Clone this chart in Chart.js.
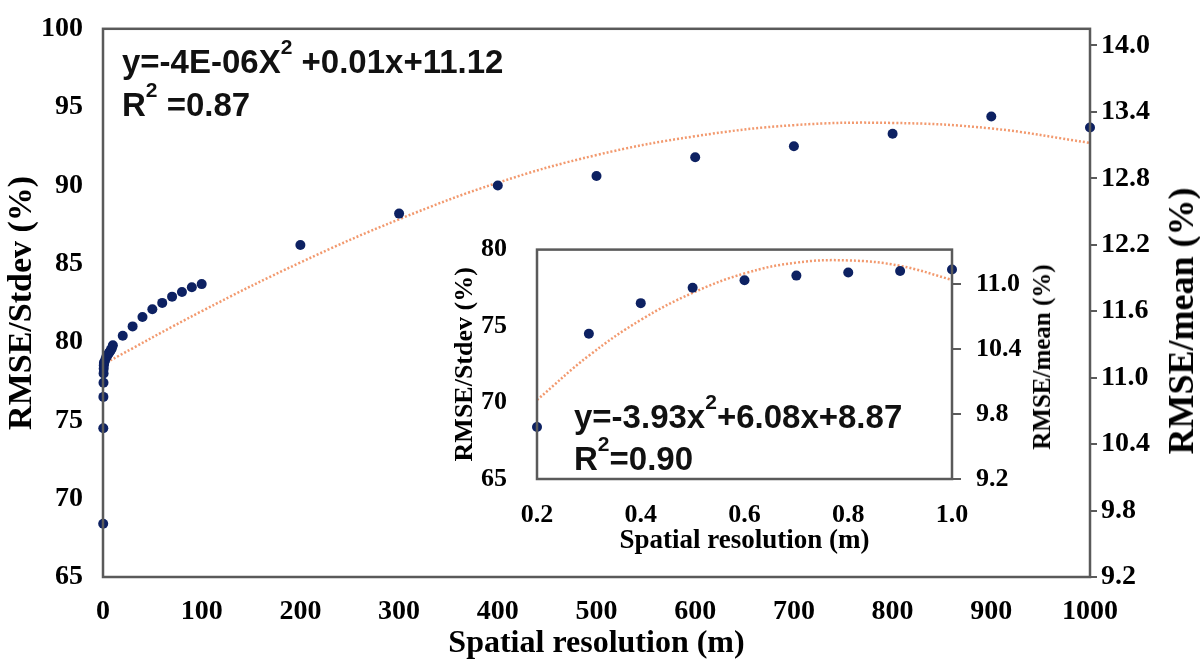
<!DOCTYPE html>
<html lang="en">
<head>
    <meta charset="UTF-8">
    <title>RMSE vs spatial resolution</title>
    <script src="https://cdn.jsdelivr.net/npm/chart.js"></script>
    <style>
        body { margin: 0; background: #fff; }
        #wrap { position: relative; width: 1200px; height: 665px; overflow: hidden; }
        #mainChart { position: absolute; left: 0; top: 0; }
        #insetChart { position: absolute; left: 448px; top: 212px; }
        .eq { position: absolute; font-family: "Liberation Sans", Arial, sans-serif; font-weight: bold;
              font-size: 33px; color: #111; white-space: nowrap; }
        .eq .sup { font-size: 21px; position: relative; top: -19px; }
        /* right-hand titles read bottom-to-top in the original */
        .rtitle { position: absolute; font-family: "Liberation Serif", serif; font-weight: bold; color: #000;
                  white-space: nowrap; transform: translate(-50%, -50%) rotate(-90deg); }
    </style>
</head>
<body>
<div id="wrap">
    <canvas id="mainChart" width="1200" height="665"></canvas>
    <canvas id="insetChart" width="603" height="347"></canvas>
    <div class="eq" style="left:122px; top:42px; line-height:39px;">
        y=-4E-06X<span class="sup">2</span> +0.01x+11.12<br>R<span class="sup">2</span> =0.87
    </div>
    <div class="eq" style="left:574px; top:398px; line-height:38px;">
        y=-3.93x<span class="sup">2</span>+6.08x+8.87<br>R<span class="sup">2</span>=0.90
    </div>
    <div class="rtitle" style="left:1181px; top:321px; font-size:36px;">RMSE/mean (%)</div>
    <div class="rtitle" style="left:1042px; top:357px; font-size:25px;">RMSE/mean (%)</div>
</div>
<script>
    // main plot: resolution (m) vs RMSE/Stdev (%)
    const mainRes = [0.2, 0.3, 0.4, 0.5, 0.6, 0.7, 0.8, 0.9, 1, 2, 3, 4, 5, 6, 7, 8, 9, 10,
        20, 30, 40, 50, 60, 70, 80, 90, 100, 200, 300, 400, 500, 600, 700, 800, 900, 1000];
    const mainStdev = [68.4, 74.5, 76.5, 77.4, 78.0, 78.3, 78.5, 78.6, 78.7, 78.8, 79.0, 79.1, 79.2, 79.3, 79.4, 79.5, 79.6, 79.8,
        80.4, 81.0, 81.6, 82.1, 82.5, 82.9, 83.2, 83.5, 83.7, 86.2, 88.2, 90.0, 90.6, 91.8, 92.5, 93.3, 94.4, 93.7];

    // fitted curve (right axis, RMSE/mean)
    const trendRes = [0, 100, 200, 300, 400, 500, 600, 700, 800, 900, 1000];
    const trendMean = [11.12, 11.60, 12.04, 12.43, 12.76, 13.01, 13.18, 13.28, 13.30, 13.25, 13.12];

    // inset: sub-metre resolutions
    const insetRes = [0.2, 0.3, 0.4, 0.5, 0.6, 0.7, 0.8, 0.9, 1.0];
    const insetStdev = [68.4, 74.5, 76.5, 77.5, 78.0, 78.3, 78.5, 78.6, 78.7];
    const insetTrendMean = [9.93, 10.34, 10.67, 10.92, 11.10, 11.20, 11.22, 11.17, 11.04];

    // tick labels
    const mainXTicks = [0, 100, 200, 300, 400, 500, 600, 700, 800, 900, 1000];
    const mainLeftTicks = [65, 70, 75, 80, 85, 90, 95, 100];
    const mainRightTicks = [9.2, 9.8, 10.4, 11.0, 11.6, 12.2, 12.8, 13.4, 14.0];
    const insetXTicks = [0.2, 0.4, 0.6, 0.8, 1.0];
    const insetLeftTicks = [65, 70, 75, 80];
    const insetRightTicks = [9.2, 9.8, 10.4, 11.0];

    const navy = '#0d2162';
    const peach = 'rgba(240,135,85,0.85)';
    const axisGrey = '#5a5a5a';
    const serif = 'Liberation Serif';

    function pairs(xs, ys) {
        return xs.map((x, i) => ({ x: x, y: ys[i] }));
    }

    function fixTicks(list) {
        return function (scale) { scale.ticks = list.map(v => ({ value: v })); };
    }

    const boxPlugin = {
        id: 'box',
        afterDraw(chart) {
            const a = chart.chartArea;
            const ctx = chart.ctx;
            ctx.save();
            ctx.strokeStyle = axisGrey;
            ctx.lineWidth = 2.5;
            ctx.strokeRect(a.left, a.top, a.right - a.left, a.bottom - a.top);
            ctx.restore();
        }
    };

    function buildChart(id, cfg) {
        const fs = cfg.fontSize;
        return new Chart(document.getElementById(id), {
            type: 'scatter',
            data: {
                datasets: [
                    {
                        label: 'RMSE/Stdev',
                        data: pairs(cfg.xs, cfg.ys),
                        yAxisID: 'y',
                        backgroundColor: navy,
                        borderWidth: 0,
                        pointRadius: 5,
                        pointHoverRadius: 5,
                        clip: false,
                        order: 1
                    },
                    {
                        label: 'fit',
                        type: 'line',
                        data: pairs(cfg.trendXs, cfg.trendYs),
                        yAxisID: 'y2',
                        borderColor: peach,
                        borderWidth: 2.5,
                        borderDash: [2, 2],
                        pointRadius: 0,
                        tension: 0.4,
                        fill: false,
                        order: 2
                    }
                ]
            },
            options: {
                responsive: false,
                animation: false,
                layout: { padding: { top: cfg.padTop } },
                plugins: { legend: { display: false }, tooltip: { enabled: false } },
                scales: {
                    x: {
                        type: 'linear',
                        min: cfg.xMin, max: cfg.xMax,
                        afterBuildTicks: fixTicks(cfg.xTicks),
                        afterFit(s) { s.height = cfg.bottomH; },
                        grid: { display: false },
                        border: { display: false },
                        ticks: {
                            color: '#000', padding: cfg.xPad, maxRotation: 0, autoSkip: false,
                            font: { family: serif, weight: 'bold', size: fs },
                            callback: cfg.xFmt
                        },
                        title: {
                            display: true, text: 'Spatial resolution (m)', color: '#000',
                            font: { family: serif, weight: 'bold', size: cfg.xTitleSize },
                            padding: { top: 0, bottom: 2 }
                        }
                    },
                    y: {
                        position: 'left',
                        min: cfg.yMin, max: cfg.yMax,
                        afterBuildTicks: fixTicks(cfg.yTicks),
                        afterFit(s) { s.width = cfg.leftW; },
                        grid: { display: false },
                        border: { display: false },
                        ticks: {
                            color: '#000', padding: cfg.yPad, autoSkip: false,
                            font: { family: serif, weight: 'bold', size: fs }
                        },
                        title: {
                            display: true, text: 'RMSE/Stdev (%)', color: '#000',
                            font: { family: serif, weight: 'bold', size: cfg.yTitleSize },
                            padding: { top: 2, bottom: 0 }
                        }
                    },
                    y2: {
                        position: 'right',
                        min: cfg.y2Min, max: cfg.y2Max,
                        afterBuildTicks: fixTicks(cfg.y2Ticks),
                        afterFit(s) { s.width = cfg.rightW; },
                        grid: { display: true, drawOnChartArea: false, drawTicks: true, tickLength: cfg.tickLen, color: axisGrey, lineWidth: 2 },
                        border: { display: false },
                        ticks: {
                            color: '#000', padding: cfg.y2Pad, autoSkip: false,
                            font: { family: serif, weight: 'bold', size: fs },
                            callback: v => v.toFixed(1)
                        },
                        title: { display: false }
                    }
                }
            },
            plugins: [boxPlugin]
        });
    }

    buildChart('mainChart', {
        xs: mainRes, ys: mainStdev, trendXs: trendRes, trendYs: trendMean,
        xMin: 0, xMax: 1000, xTicks: mainXTicks, xFmt: v => String(v),
        yMin: 65, yMax: 100, yTicks: mainLeftTicks,
        y2Min: 9.2, y2Max: 14.15, y2Ticks: mainRightTicks,
        fontSize: 28, xTitleSize: 32, yTitleSize: 34,
        padTop: 20, bottomH: 88, leftW: 103, rightW: 110,
        xPad: 10, yPad: 12, y2Pad: 4, tickLen: 7
    });

    buildChart('insetChart', {
        xs: insetRes, ys: insetStdev, trendXs: insetRes, trendYs: insetTrendMean,
        xMin: 0.2, xMax: 1.0, xTicks: insetXTicks, xFmt: v => v.toFixed(1),
        yMin: 65, yMax: 80, yTicks: insetLeftTicks,
        y2Min: 9.2, y2Max: 11.32, y2Ticks: insetRightTicks,
        fontSize: 26, xTitleSize: 27, yTitleSize: 26,
        padTop: 14, bottomH: 80, leftW: 89, rightW: 99,
        xPad: 13, yPad: 22, y2Pad: 15, tickLen: 9
    });
</script>
</body>
</html>
